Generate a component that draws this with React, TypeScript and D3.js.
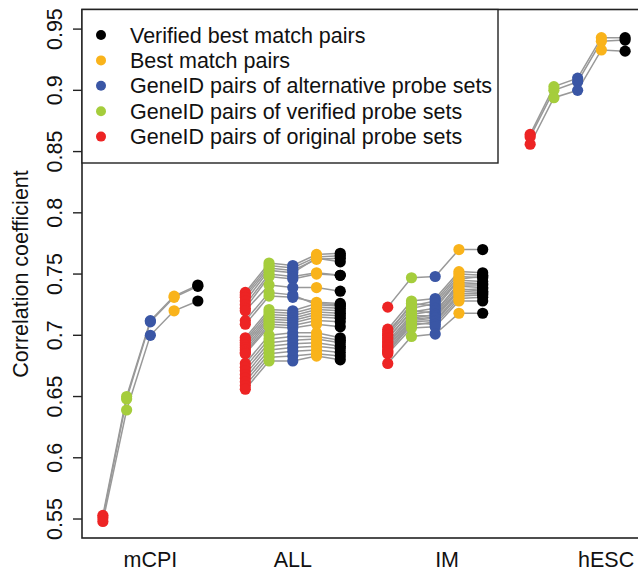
import * as d3 from "d3";

const GROUPS = ["mCPI", "ALL", "IM", "hESC"];
// where the group names sit on the x axis (same units as the point positions)
const GROUP_LABEL_AT = [3, 9, 15.5, 22.2];

// order along x inside each group: original -> verified -> alternative -> best -> verified best
const SERIES = [
  { label: "GeneID pairs of original probe sets", color: "#ED2424" },
  { label: "GeneID pairs of verified probe sets", color: "#A5CD3C" },
  { label: "GeneID pairs of alternative probe sets", color: "#3A56A5" },
  { label: "Best match pairs", color: "#F9B31B" },
  { label: "Verified best match pairs", color: "#000000" },
];

const Y_TICKS = [0.55, 0.6, 0.65, 0.7, 0.75, 0.8, 0.85, 0.9, 0.95];

// each row: [original, verified, alternative, best, verified best]
const mcpiLines = [
  [0.553, 0.65, 0.712, 0.732, 0.741],
  [0.551, 0.648, 0.711, 0.731, 0.74],
  [0.548, 0.639, 0.7, 0.72, 0.728],
];

const allLines = [
  [0.735, 0.759, 0.757, 0.766, 0.767],
  [0.733, 0.757, 0.755, 0.764, 0.765],
  [0.731, 0.755, 0.753, 0.762, 0.763],
  [0.728, 0.753, 0.751, 0.763, 0.76],
  [0.725, 0.75, 0.748, 0.751, 0.749],
  [0.722, 0.748, 0.746, 0.75, 0.749],
  [0.72, 0.741, 0.739, 0.739, 0.736],
  [0.712, 0.735, 0.733, 0.725, 0.724],
  [0.709, 0.732, 0.731, 0.727, 0.726],
  [0.698, 0.721, 0.72, 0.726, 0.725],
  [0.696, 0.719, 0.718, 0.723, 0.722],
  [0.694, 0.717, 0.716, 0.721, 0.72],
  [0.692, 0.715, 0.714, 0.719, 0.718],
  [0.69, 0.713, 0.712, 0.717, 0.716],
  [0.688, 0.711, 0.71, 0.715, 0.714],
  [0.686, 0.709, 0.708, 0.712, 0.711],
  [0.685, 0.707, 0.706, 0.709, 0.707],
  [0.677, 0.7, 0.702, 0.702, 0.698],
  [0.674, 0.697, 0.699, 0.699, 0.696],
  [0.671, 0.694, 0.696, 0.697, 0.694],
  [0.668, 0.691, 0.693, 0.694, 0.691],
  [0.665, 0.688, 0.69, 0.691, 0.689],
  [0.662, 0.685, 0.687, 0.688, 0.686],
  [0.659, 0.682, 0.683, 0.685, 0.683],
  [0.656, 0.679, 0.679, 0.683, 0.68],
];

const imLines = [
  [0.723, 0.747, 0.748, 0.77, 0.77],
  [0.705, 0.728, 0.73, 0.752, 0.751],
  [0.703, 0.724, 0.728, 0.75, 0.749],
  [0.701, 0.726, 0.724, 0.746, 0.748],
  [0.7, 0.722, 0.726, 0.748, 0.747],
  [0.698, 0.719, 0.722, 0.745, 0.744],
  [0.697, 0.72, 0.718, 0.743, 0.742],
  [0.695, 0.717, 0.72, 0.741, 0.741],
  [0.694, 0.714, 0.717, 0.74, 0.739],
  [0.692, 0.716, 0.716, 0.737, 0.738],
  [0.691, 0.713, 0.715, 0.738, 0.736],
  [0.69, 0.712, 0.714, 0.736, 0.735],
  [0.688, 0.711, 0.712, 0.734, 0.734],
  [0.687, 0.708, 0.711, 0.732, 0.733],
  [0.686, 0.71, 0.709, 0.73, 0.731],
  [0.685, 0.706, 0.707, 0.728, 0.728],
  [0.677, 0.699, 0.701, 0.718, 0.718],
];

const hescLines = [
  [0.864, 0.903, 0.91, 0.943, 0.943],
  [0.862, 0.9, 0.907, 0.94, 0.941],
  [0.856, 0.894, 0.9, 0.933, 0.932],
];

const GROUP_LINES = [mcpiLines, allLines, imLines, hescLines];

const W = 638;
const H = 573;
const FONT = "'Liberation Sans', Arial, Helvetica, sans-serif";
const FS = 21.5;

export default function App() {
  const x = d3.scaleLinear().domain([0.12, 23.88]).range([82, 646]);
  const y = d3.scaleLinear().domain([0.5345, 0.966]).range([538, 9.5]);

  // group g occupies x positions 6g+1 .. 6g+5
  const xPos = (g: number, s: number) => x(g * 6 + 1 + s);
  const line = d3
    .line<[number, number]>()
    .x((d) => d[0])
    .y((d) => d[1]);

  const legendOrder = [...SERIES].reverse();

  return (
    <svg
      width={W}
      height={H}
      style={{ position: "absolute", left: 0, top: 0, background: "#fff" }}
      fontFamily={FONT}
    >
      {/* connecting lines */}
      {GROUP_LINES.map((rows, g) =>
        rows.map((r, i) => (
          <path
            key={`l${g}-${i}`}
            d={line(r.map((v, s) => [xPos(g, s), y(v)]) as [number, number][]) ?? ""}
            fill="none"
            stroke="#999"
            strokeWidth={1.5}
          />
        )),
      )}

      {/* points, series by series so colours stack like the original */}
      {SERIES.map((ser, s) =>
        GROUP_LINES.map((rows, g) =>
          rows.map((r, i) => (
            <circle
              key={`p${s}-${g}-${i}`}
              cx={xPos(g, s)}
              cy={y(r[s])}
              r={5.6}
              fill={ser.color}
            />
          )),
        ),
      )}

      {/* frame */}
      <rect x={82} y={9.5} width={564} height={528.5} fill="none" stroke="#222" strokeWidth={1.6} />

      {/* y axis */}
      {Y_TICKS.map((t) => (
        <g key={t}>
          <line x1={73} x2={82} y1={y(t)} y2={y(t)} stroke="#222" strokeWidth={1.4} />
          <text
            transform={`translate(62,${y(t)}) rotate(-90)`}
            textAnchor="middle"
            fontSize={FS}
            fill="#111"
          >
            {String(t)}
          </text>
        </g>
      ))}
      <text
        transform={`translate(28,274) rotate(-90)`}
        textAnchor="middle"
        fontSize={FS}
        fill="#111"
      >
        Correlation coefficient
      </text>

      {/* x labels */}
      {GROUPS.map((name, g) => (
        <text
          key={name}
          x={x(GROUP_LABEL_AT[g])}
          y={567}
          textAnchor="middle"
          fontSize={FS}
          fill="#111"
        >
          {name}
        </text>
      ))}

      {/* legend */}
      <rect x={82} y={9.5} width={416} height={153.5} fill="#fff" stroke="#222" strokeWidth={1.4} />
      {legendOrder.map((ser, i) => (
        <g key={ser.label} transform={`translate(0,${35 + i * 25.4})`}>
          <circle cx={101} cy={0} r={5} fill={ser.color} />
          <text x={130} y={7.6} fontSize={FS} fill="#111">
            {ser.label}
          </text>
        </g>
      ))}
    </svg>
  );
}
